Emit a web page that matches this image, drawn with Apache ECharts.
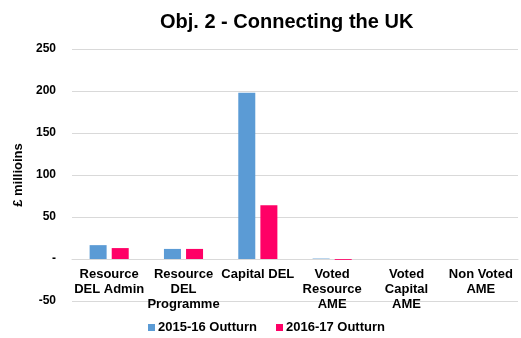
<!DOCTYPE html>
<html>
<head>
<meta charset="utf-8">
<script src="https://cdn.jsdelivr.net/npm/echarts@6/dist/echarts.min.js"></script>
<style>
  html, body { margin: 0; padding: 0; background: #fff; }
  #chart { width: 521px; height: 338px; }
</style>
</head>
<body>
<div id="chart"></div>
<script>
// Spending categories and outturn figures (£ millions)
const categories = ['Resource\nDEL Admin', 'Resource\nDEL\nProgramme', 'Capital DEL', 'Voted\nResource\nAME', 'Voted\nCapital\nAME', 'Non Voted\nAME'];
const outturn1516 = [16.5, 12, 198, 0.5, 0, 0];
const outturn1617 = [13, 12, 64, -1, 0, 0];
const seriesNames = ['2015-16 Outturn', '2016-17 Outturn'];

const font = '"Liberation Sans", Arial, sans-serif';
// Plot area: value axis runs from -50 to 250 over 252px, so the zero line sits 42px above the bottom
const gridTop = 49, gridBottom = 37, plotHeight = 338 - gridTop - gridBottom;
const yMin = -50, yMax = 250;
const zeroOffset = -plotHeight * (0 - yMin) / (yMax - yMin);

const chart = echarts.init(document.getElementById('chart'));
chart.setOption({
  animation: false,
  title: {
    text: 'Obj. 2 - Connecting the UK',
    left: 160,
    top: 12,
    padding: 0,
    textStyle: { fontFamily: font, fontSize: 20, fontWeight: 'bold', color: '#000' }
  },
  legend: {
    data: seriesNames,
    bottom: 4,
    left: 148,
    padding: 0,
    itemWidth: 7,
    itemHeight: 7,
    itemGap: 19,
    icon: 'rect',
    textStyle: { fontFamily: font, fontSize: 13, fontWeight: 'bold', color: '#000', padding: [0, 0, 0, -2] }
  },
  grid: { left: 72, right: 3, top: gridTop, bottom: gridBottom, containLabel: false, outerBoundsMode: 'none' },
  xAxis: {
    type: 'category',
    data: categories,
    offset: zeroOffset,
    axisLine: { show: true, onZero: false, lineStyle: { color: '#d9d9d9', width: 1 } },
    axisTick: { show: false },
    axisLabel: {
      interval: 0,
      margin: 8,
      fontFamily: font, fontSize: 13, fontWeight: 'bold', color: '#000', lineHeight: 15
    }
  },
  yAxis: {
    type: 'value',
    min: yMin,
    max: yMax,
    interval: 50,
    name: '£ millioins',
    nameLocation: 'middle',
    nameGap: 46,
    nameTextStyle: { fontFamily: font, fontSize: 13, fontWeight: 'bold', color: '#000' },
    axisLine: { show: false },
    axisTick: { show: false },
    splitLine: { lineStyle: { color: '#d9d9d9', width: 1 } },
    axisLabel: {
      margin: 16,
      fontFamily: font, fontSize: 12, fontWeight: 'bold', color: '#000',
      formatter: v => (v === 0 ? '-' : String(v))
    }
  },
  series: [
    {
      name: seriesNames[0],
      type: 'bar',
      data: outturn1516,
      barWidth: 17,
      barGap: '30%',
      itemStyle: { color: '#5B9BD5' }
    },
    {
      name: seriesNames[1],
      type: 'bar',
      data: outturn1617,
      barWidth: 17,
      itemStyle: { color: '#FF0066' }
    }
  ]
});
</script>
</body>
</html>
